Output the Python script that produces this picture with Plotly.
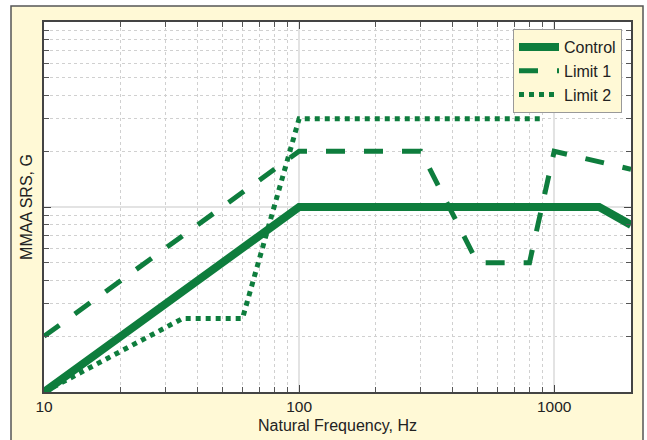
import plotly.graph_objects as go

# Data (y in relative G units on a log axis)
control_x = [10, 100, 1500, 2000]
control_y = [0.1, 1, 1, 0.8]
limit1_x = [10, 100, 300, 500, 800, 1000, 2000]
limit1_y = [0.2, 2, 2, 0.5, 0.5, 2, 1.6]
limit2_x = [10, 35, 60, 100, 900]
limit2_y = [0.1, 0.25, 0.25, 3, 3]

GREEN = "#0e7d3d"
CREAM = "#fff9d6"

fig = go.Figure()
fig.add_trace(go.Scatter(x=control_x, y=control_y, mode="lines", name="Control",
                         line=dict(color=GREEN, width=8)))
fig.add_trace(go.Scatter(x=limit1_x, y=limit1_y, mode="lines", name="Limit 1",
                         line=dict(color=GREEN, width=5, dash="19px,19px")))
fig.add_trace(go.Scatter(x=limit2_x, y=limit2_y, mode="lines", name="Limit 2",
                         line=dict(color=GREEN, width=5, dash="5px,5px")))

L, R, T, B = 44, 16, 22, 48
W, H = 647, 440
pw, ph = W - L - R, H - T - B

def px_x(p):
    return (p - L) / pw

def px_y(p):
    return (H - B - p) / ph

# outer cream frame
fig.add_shape(type="rect", xref="paper", yref="paper",
              x0=px_x(11), x1=px_x(643), y0=px_y(450), y1=px_y(6),
              fillcolor=CREAM, line=dict(color="#555555", width=1.5), layer="below")
# white plot area
fig.add_shape(type="rect", xref="paper", yref="paper",
              x0=0, x1=1, y0=0, y1=1,
              fillcolor="#ffffff", line=dict(width=0), layer="below")

axis_common = dict(
    showline=True, linecolor="#444444", linewidth=1.5, mirror="ticks",
    ticks="inside", ticklen=7, tickcolor="#444444",
    showgrid=True, gridcolor="#e3e3e3", gridwidth=2,
    zeroline=False, automargin=False,
    minor=dict(ticks="inside", ticklen=5, tickcolor="#555555", dtick="D1",
               showgrid=True, gridcolor="#d0d0d0", griddash="dot", gridwidth=1),
)

fig.update_xaxes(type="log", range=[1, 3.301], dtick=1,
                 tickvals=[10, 100, 1000], ticktext=["10", "100", "1000"],
                 tickfont=dict(size=15.5, color="#222222"),
                 title=dict(text="Natural Frequency, Hz", font=dict(size=16, color="#222222"), standoff=5),
                 **axis_common)
fig.update_yaxes(type="log", range=[-1, 1], dtick=1, showticklabels=False,
                 title=dict(text="MMAA SRS, G", font=dict(size=16, color="#222222"), standoff=6),
                 **axis_common)

fig.update_layout(
    width=W, height=H,
    margin=dict(l=L, r=R, t=T, b=B, autoexpand=False),
    paper_bgcolor="white", plot_bgcolor="white",
    font=dict(family="Liberation Sans, Arial, sans-serif", color="#222222"),
    showlegend=True,
    legend=dict(x=px_x(622), y=px_y(29), xanchor="right", yanchor="top",
                bgcolor=CREAM, bordercolor="#999999", borderwidth=1,
                font=dict(size=16), tracegroupgap=0, itemwidth=40),
)

fig.write_html("out.html")
